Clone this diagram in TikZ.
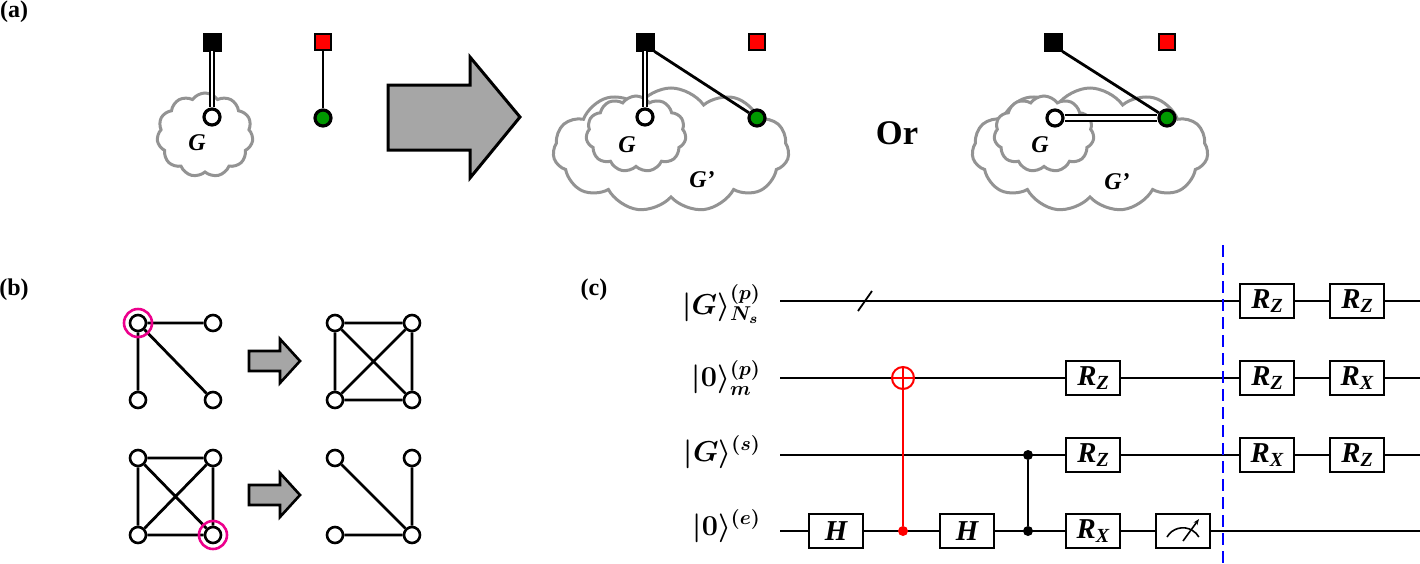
\documentclass[tikz,border=0pt]{standalone}
\usepackage{fontspec}
\setmainfont{Liberation Serif}
\usetikzlibrary{shapes.symbols,arrows.meta}
\newcommand{\gsub}[2]{#1\raisebox{-0.35ex}{\normalsize #2}}
\begin{document}
\boldmath
\begin{tikzpicture}[x=0.5pt,y=-0.5pt,
  cl/.style={cloud,draw=gray!85,line width=1.5pt,cloud puffs=11,cloud puff arc=110,fill=white},
  wn/.style={circle,draw,line width=1.6pt,fill=white,minimum size=8pt,inner sep=0},
  gn/.style={circle,draw,line width=1.6pt,fill=green!60!black,minimum size=8pt,inner sep=0},
  bsq/.style={draw,fill=black,minimum size=9pt,inner sep=0},
  rsq/.style={draw,line width=0.8pt,fill=red,minimum size=8pt,inner sep=0},
  dbl/.style={draw,line width=0.8pt,double=white,double distance=1.4pt},
  ln/.style={draw,line width=1.4pt},
  bn/.style={circle,draw,line width=1.3pt,fill=white,minimum size=8pt,inner sep=0},
  pk/.style={circle,draw=magenta,line width=1.3pt,minimum size=14pt,inner sep=0},
  gate/.style={draw,line width=0.8pt,fill=white,minimum width=27pt,minimum height=17pt,inner sep=0,font=\Large\itshape\bfseries},
  wire/.style={draw,line width=0.8pt},
  lab/.style={font=\bfseries\large},
  gl/.style={font=\large\itshape\bfseries},
  ql/.style={anchor=east,font=\Large}]
\useasboundingbox (0,0) rectangle (1420,563);
\node[lab] at (14,12) {(a)};
\node[lab] at (14,290) {(b)};
\node[lab] at (594,290) {(c)};
% panel a1
\node[cl,aspect=1.15,minimum width=48pt,minimum height=42pt] (c1) at (205,135) {};
\node[bsq] (s1) at (212,42) {};
\node[rsq] (r1) at (323,42) {};
\node[wn] (w1) at (212,117) {};
\node[gn] (g1) at (323,118) {};
\node[gl] (l1) at (197,143) {G};
\draw[dbl] (s1) -- (w1);
\draw[ln] (r1) -- (g1);
% big arrow
\draw[line width=1.5pt,fill=gray!70] (388,85) -- (470,85) -- (470,57) -- (520,117) -- (470,178) -- (470,150) -- (388,150) -- cycle;
% panel a2
\node[cl,aspect=1.8,minimum width=118pt,minimum height=62pt] (c2) at (671,150) {};
\node[cl,aspect=1.3,minimum width=50pt,minimum height=38pt] (c3) at (636,134) {};
\node[bsq] (s2) at (645,42) {};
\node[rsq] (r2) at (757,42) {};
\node[wn] (w2) at (645,117) {};
\node[gn] (g2) at (757,118) {};
\node[gl] at (627,145) {G};
\node[gl] at (702,180) {G’};
\draw[dbl] (s2) -- (w2);
\draw[ln] (s2.south east) -- (g2);
\node[font=\LARGE\bfseries] at (897,133) {Or};
% panel a3
\node[cl,aspect=1.8,minimum width=118pt,minimum height=62pt] (c4) at (1090,150) {};
\node[cl,aspect=1.3,minimum width=50pt,minimum height=38pt] (c5) at (1044,134) {};
\node[bsq] (s3) at (1053,42) {};
\node[rsq] (r3) at (1167,42) {};
\node[wn] (w3) at (1055,118) {};
\node[gn] (g3) at (1167,118) {};
\node[gl] at (1040,145) {G};
\node[gl] at (1117,182) {G’};
\draw[dbl,line width=1.1pt,double distance=2pt] (w3) -- (g3);
\draw[ln] (s3.south east) -- (g3);
% panel b
\foreach \n/\x/\y in {a/138/323,b/213/323,c/138/400,d/213/400,
  e/335/323,f/412/323,g/335/400,h/412/400,
  i/138/458,j/213/458,k/138/535,l/213/535,
  m/335/458,n/412/458,o/335/535,p/412/535}
  \node[bn] (\n) at (\x,\y) {};
\draw[ln] (a)--(b) (a)--(d) (a)--(c);
\draw[ln] (e)--(f) (e)--(g) (e)--(h) (f)--(g) (f)--(h) (g)--(h);
\draw[ln] (i)--(j) (i)--(k) (i)--(l) (j)--(k) (j)--(l) (k)--(l);
\draw[ln] (m)--(p) (n)--(p) (o)--(p);
\node[pk] at (a) {};
\node[pk] at (l) {};
\foreach \y in {361,495}
  \draw[line width=1.3pt,fill=gray!70] (249,\y-10) -- (280,\y-10) -- (280,\y-22) -- (300,\y) -- (280,\y+22) -- (280,\y+10) -- (249,\y+10) -- cycle;
% panel c
\coordinate (q1s) at (780,301); \coordinate (q1e) at (1420,301);
\coordinate (q2s) at (780,378); \coordinate (q2e) at (1420,378);
\coordinate (q3s) at (780,455); \coordinate (q3e) at (1420,455);
\coordinate (q4s) at (780,531); \coordinate (q4e) at (1420,531);
\draw[wire] (q1s)--(q1e) (q2s)--(q2e) (q3s)--(q3e) (q4s)--(q4e);
\node[ql] at (768,304) {$|G\rangle^{(p)}_{N_s}$};
\node[ql] at (768,378) {$|0\rangle^{(p)}_{m}$};
\node[ql] at (768,452) {$|G\rangle^{(s)}$};
\node[ql] at (768,526) {$|0\rangle^{(e)}$};
\coordinate (sl1) at (858,311); \coordinate (sl2) at (872,291);
\draw[line width=0.9pt] (sl1)--(sl2);
\node[gate] (h1) at (836,531) {H};
\node[gate] (h2) at (967,531) {H};
\node[circle,draw=red,line width=1pt,minimum size=11pt,inner sep=0] (tg) at (903,378) {};
\draw[red,line width=1pt] (tg.north)--(tg.south) (tg.west)--(tg.east);
\node[circle,fill=red,minimum size=5pt,inner sep=0] (ct) at (903,531) {};
\draw[red,line width=1.2pt] (ct)--(tg.south);
\node[circle,fill=black,minimum size=5pt,inner sep=0] (z1) at (1028,455) {};
\node[circle,fill=black,minimum size=5pt,inner sep=0] (z2) at (1028,531) {};
\draw[line width=1pt] (z1)--(z2);
\node[gate] (g21) at (1093,378) {\gsub{R}{Z}};
\node[gate] (g31) at (1093,455) {\gsub{R}{Z}};
\node[gate] (g41) at (1093,531) {\gsub{R}{X}};
\node[gate] (ms) at (1183,531) {};
\draw[line width=0.8pt] ([xshift=-8pt,yshift=-3pt]ms.center) arc (150:30:9.2pt);
\draw[line width=0.8pt,-{Stealth[length=3pt]}] ([yshift=-5pt]ms.center) -- ([xshift=8pt,yshift=6pt]ms.center);
\coordinate (dt) at (1223,245); \coordinate (db) at (1223,563);
\draw[blue,dashed,line width=1pt,dash pattern=on 6pt off 3pt] (dt)--(db);
\node[gate] at (1267,301) {\gsub{R}{Z}};
\node[gate] at (1357,301) {\gsub{R}{Z}};
\node[gate] at (1267,378) {\gsub{R}{Z}};
\node[gate] at (1357,378) {\gsub{R}{X}};
\node[gate] at (1267,455) {\gsub{R}{X}};
\node[gate] at (1357,455) {\gsub{R}{Z}};
\end{tikzpicture}
\end{document}
